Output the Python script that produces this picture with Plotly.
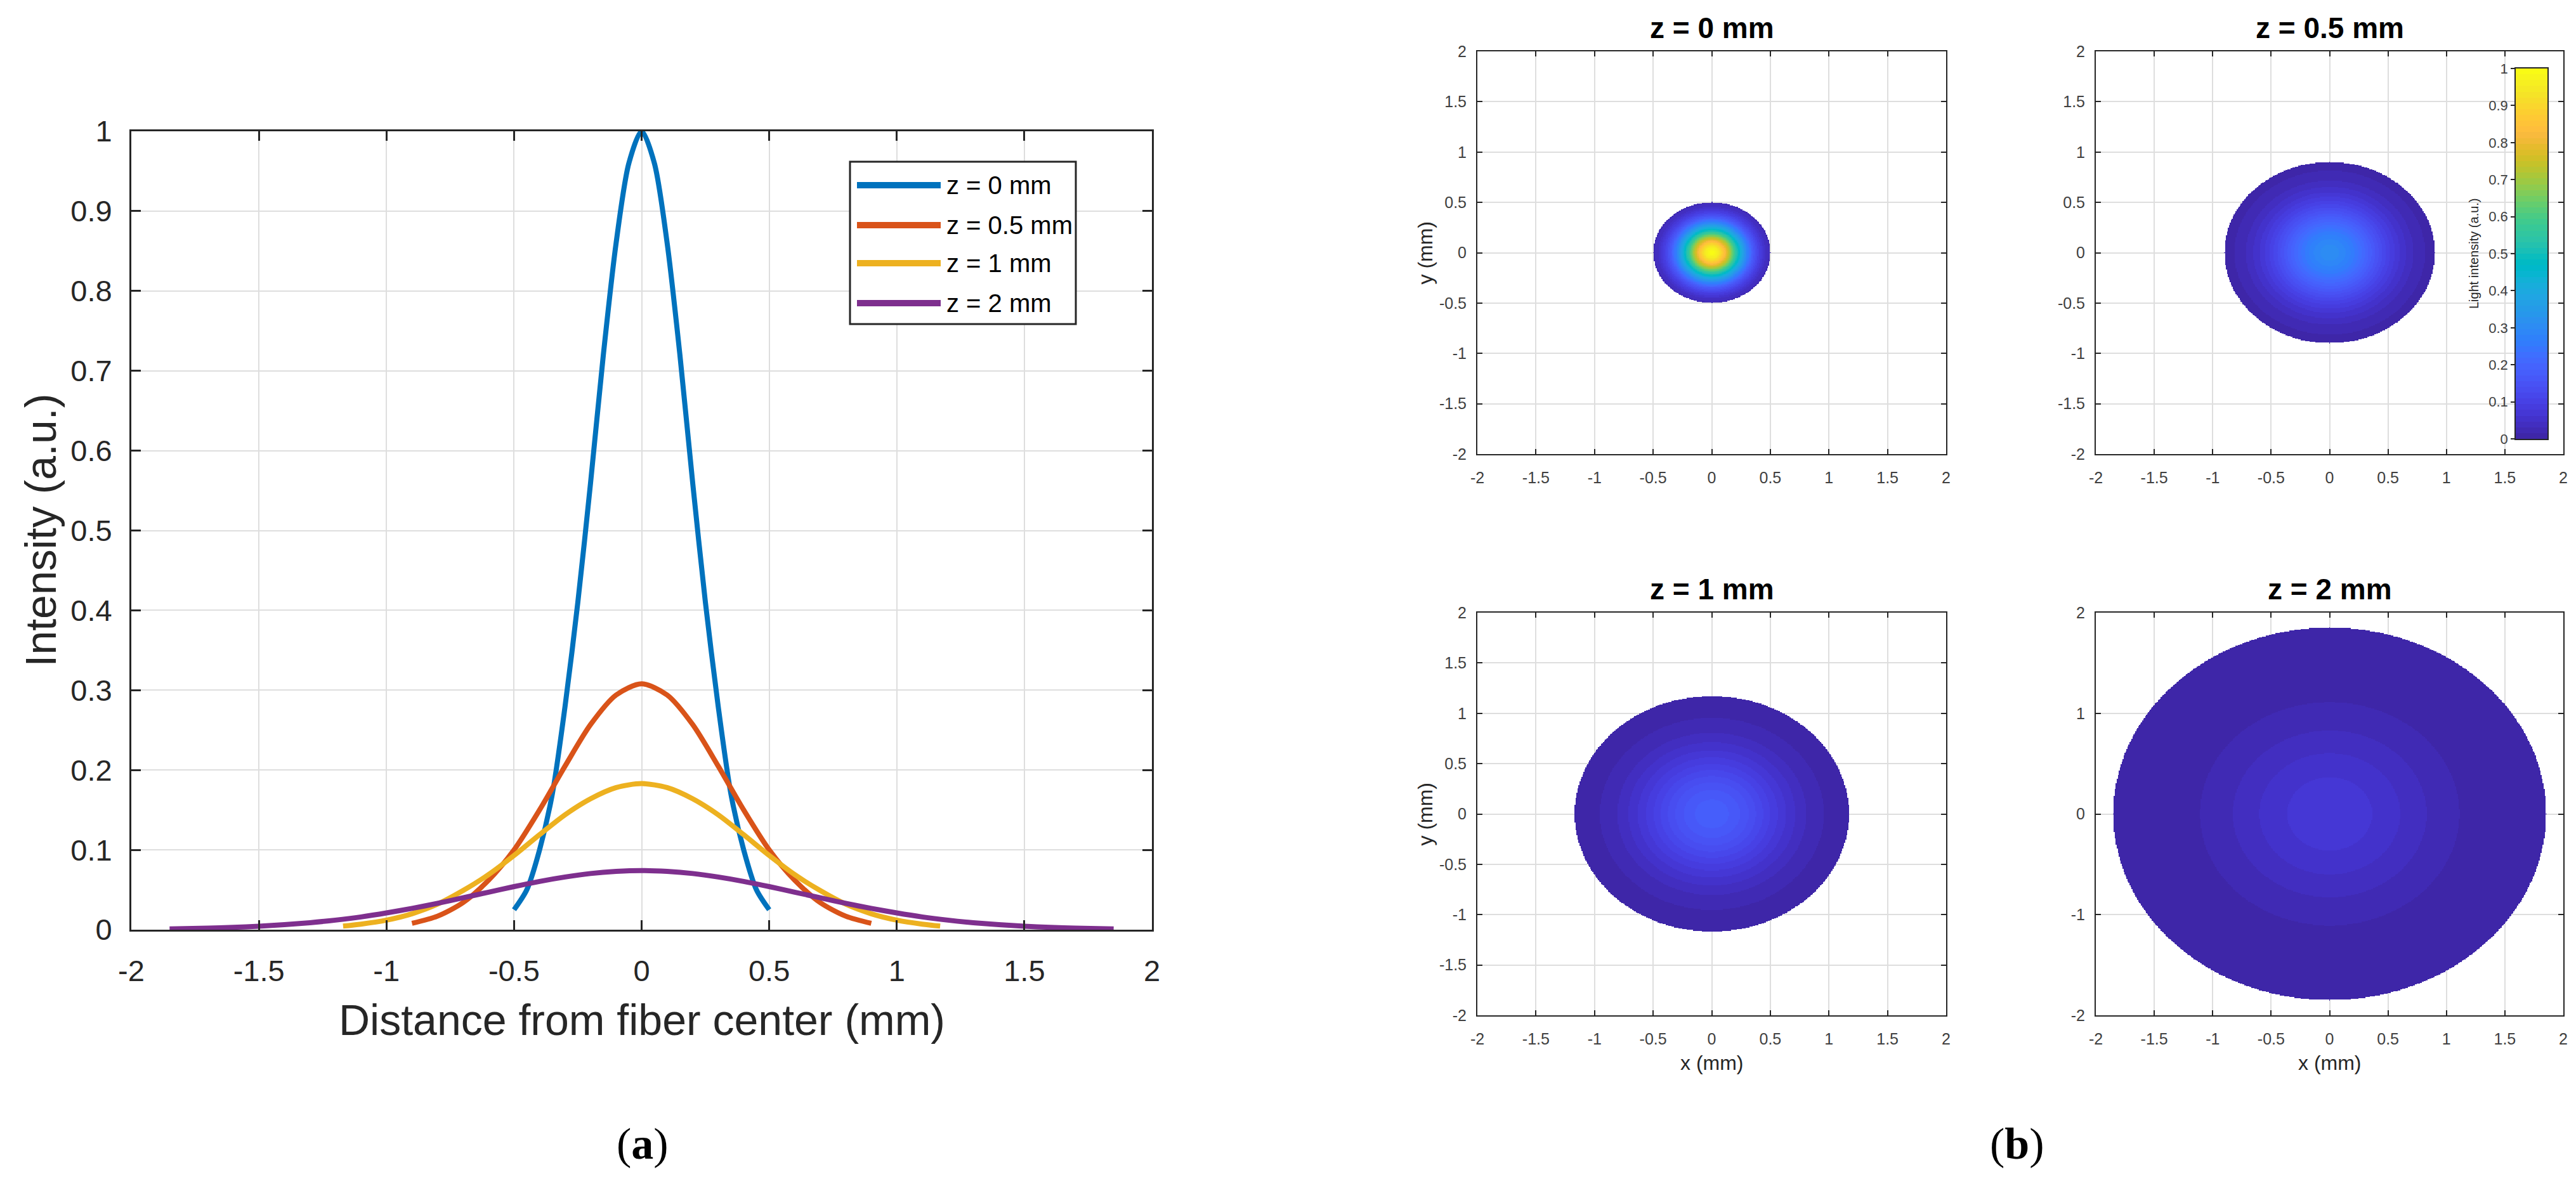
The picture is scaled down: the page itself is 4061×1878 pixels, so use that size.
import numpy as np
import plotly.graph_objects as go

W, H = 4061, 1878

# ---------------- data ----------------
# (a) intensity profiles vs distance from fibre centre (mm)
x_z0 = [-0.5, -0.45, -0.4, -0.35, -0.3, -0.25, -0.2, -0.15, -0.1, -0.05, 0.0,
        0.05, 0.1, 0.15, 0.2, 0.25, 0.3, 0.35, 0.4, 0.45, 0.5]
i_z0 = [0.025, 0.05, 0.10, 0.17, 0.28, 0.41, 0.56, 0.72, 0.86, 0.96, 1.0,
        0.96, 0.86, 0.72, 0.56, 0.41, 0.28, 0.17, 0.10, 0.05, 0.025]

x_z05 = [-0.9, -0.8, -0.7, -0.6, -0.5, -0.4, -0.3, -0.2, -0.1, 0.0,
         0.1, 0.2, 0.3, 0.4, 0.5, 0.6, 0.7, 0.8, 0.9]
i_z05 = [0.008, 0.017, 0.034, 0.062, 0.100, 0.150, 0.205, 0.257, 0.294, 0.308,
         0.294, 0.257, 0.205, 0.150, 0.100, 0.062, 0.034, 0.017, 0.008]

x_z1 = [-1.17, -1.1, -1.0, -0.9, -0.8, -0.7, -0.6, -0.5, -0.4, -0.3, -0.2, -0.1, 0.0,
        0.1, 0.2, 0.3, 0.4, 0.5, 0.6, 0.7, 0.8, 0.9, 1.0, 1.1, 1.17]
i_z1 = [0.0045, 0.007, 0.012, 0.020, 0.032, 0.049, 0.069, 0.093, 0.119, 0.144, 0.164, 0.178, 0.183,
        0.178, 0.164, 0.144, 0.119, 0.093, 0.069, 0.049, 0.032, 0.020, 0.012, 0.007, 0.0045]

x_z2 = [-1.85, -1.7, -1.6, -1.5, -1.4, -1.3, -1.2, -1.1, -1.0, -0.9, -0.8, -0.7, -0.6,
        -0.5, -0.4, -0.3, -0.2, -0.1, 0.0,
        0.1, 0.2, 0.3, 0.4, 0.5, 0.6, 0.7, 0.8, 0.9, 1.0, 1.1, 1.2, 1.3, 1.4, 1.5, 1.6, 1.7, 1.85]
i_z2 = [0.001, 0.0019, 0.003, 0.0044, 0.0063, 0.0088, 0.012, 0.016, 0.021, 0.0267, 0.033, 0.040, 0.047,
        0.054, 0.0605, 0.066, 0.0704, 0.073, 0.074,
        0.073, 0.0704, 0.066, 0.0605, 0.054, 0.047, 0.040, 0.033, 0.0267, 0.021, 0.016, 0.012,
        0.0088, 0.0063, 0.0044, 0.003, 0.0019, 0.001]

series_names = ["z = 0 mm", "z = 0.5 mm", "z = 1 mm", "z = 2 mm"]
series_x = [x_z0, x_z05, x_z1, x_z2]
series_y = [i_z0, i_z05, i_z1, i_z2]
series_colors = ["#0072BD", "#D95319", "#EDB120", "#7E2F8E"]

# tick labels
left_xticks = [-2, -1.5, -1, -0.5, 0, 0.5, 1, 1.5, 2]
left_xtext = ["-2", "-1.5", "-1", "-0.5", "0", "0.5", "1", "1.5", "2"]
left_yticks = [0, 0.1, 0.2, 0.3, 0.4, 0.5, 0.6, 0.7, 0.8, 0.9, 1]
left_ytext = ["0", "0.1", "0.2", "0.3", "0.4", "0.5", "0.6", "0.7", "0.8", "0.9", "1"]
map_ticks_fine = [-2, -1.5, -1, -0.5, 0, 0.5, 1, 1.5, 2]
map_text_fine = ["-2", "-1.5", "-1", "-0.5", "0", "0.5", "1", "1.5", "2"]
map_ticks_coarse = [-2, -1, 0, 1, 2]
map_text_coarse = ["-2", "-1", "0", "1", "2"]
cb_ticks = [0, 0.1, 0.2, 0.3, 0.4, 0.5, 0.6, 0.7, 0.8, 0.9, 1]
cb_text = ["0", "0.1", "0.2", "0.3", "0.4", "0.5", "0.6", "0.7", "0.8", "0.9", "1"]

# MATLAB parula (64 colours)
parula = [
    (0.2422, 0.1504, 0.6603), (0.2504, 0.1650, 0.7076), (0.2578, 0.1818, 0.7511), (0.2647, 0.1978, 0.7952),
    (0.2706, 0.2147, 0.8364), (0.2751, 0.2342, 0.8710), (0.2783, 0.2559, 0.8991), (0.2803, 0.2782, 0.9221),
    (0.2813, 0.3006, 0.9414), (0.2810, 0.3228, 0.9579), (0.2795, 0.3447, 0.9717), (0.2760, 0.3667, 0.9829),
    (0.2699, 0.3892, 0.9906), (0.2602, 0.4123, 0.9952), (0.2440, 0.4358, 0.9988), (0.2206, 0.4603, 0.9973),
    (0.1963, 0.4847, 0.9892), (0.1834, 0.5074, 0.9798), (0.1786, 0.5289, 0.9682), (0.1764, 0.5499, 0.9520),
    (0.1687, 0.5703, 0.9359), (0.1540, 0.5902, 0.9218), (0.1460, 0.6091, 0.9079), (0.1380, 0.6276, 0.8973),
    (0.1248, 0.6459, 0.8883), (0.1113, 0.6635, 0.8763), (0.0952, 0.6798, 0.8598), (0.0689, 0.6948, 0.8394),
    (0.0297, 0.7082, 0.8163), (0.0036, 0.7203, 0.7917), (0.0067, 0.7312, 0.7660), (0.0433, 0.7411, 0.7394),
    (0.0964, 0.7500, 0.7120), (0.1408, 0.7584, 0.6842), (0.1717, 0.7670, 0.6554), (0.1938, 0.7758, 0.6251),
    (0.2161, 0.7843, 0.5923), (0.2470, 0.7918, 0.5567), (0.2906, 0.7973, 0.5188), (0.3406, 0.8008, 0.4789),
    (0.3909, 0.8029, 0.4354), (0.4456, 0.8024, 0.3909), (0.5044, 0.7993, 0.3480), (0.5616, 0.7942, 0.3045),
    (0.6174, 0.7876, 0.2612), (0.6720, 0.7793, 0.2227), (0.7242, 0.7698, 0.1910), (0.7738, 0.7598, 0.1646),
    (0.8203, 0.7498, 0.1535), (0.8634, 0.7406, 0.1596), (0.9035, 0.7330, 0.1774), (0.9393, 0.7288, 0.2100),
    (0.9728, 0.7298, 0.2394), (0.9956, 0.7434, 0.2371), (0.9970, 0.7659, 0.2199), (0.9952, 0.7893, 0.2028),
    (0.9892, 0.8136, 0.1885), (0.9786, 0.8386, 0.1766), (0.9676, 0.8639, 0.1643), (0.9610, 0.8890, 0.1537),
    (0.9597, 0.9135, 0.1423), (0.9628, 0.9373, 0.1265), (0.9691, 0.9606, 0.1064), (0.9769, 0.9839, 0.0805),
]
n_col = len(parula)
colorscale = []
for k, (r, g, b) in enumerate(parula):
    c = f"rgb({int(round(r*255))},{int(round(g*255))},{int(round(b*255))})"
    colorscale.append([k / n_col, c])
    colorscale.append([(k + 1) / n_col, c])

# ---------------- layout geometry (pixels) ----------------
def px_x(p):
    return p / W

def px_y(p):
    return 1 - p / H

L_X0, L_X1, L_Y0, L_Y1 = 199, 1808, 199, 1458
C1 = (2321, 3060)
C2 = (3296, 4033)
R1 = (73, 708)
R2 = (958, 1593)
CB_X = (3958, 4008)
CB_Y = (100, 684)

FONT = "Liberation Sans, Arial, Helvetica, sans-serif"
AXC = "#262626"

fig = go.Figure()

# ---------------- (a) line plot ----------------
for name, xs, ys, col in zip(series_names, series_x, series_y, series_colors):
    fig.add_trace(go.Scatter(x=xs, y=ys, mode="lines", name=name,
                             line=dict(color=col, width=8, shape="spline", smoothing=0.8),
                             xaxis="x", yaxis="y", showlegend=False, hoverinfo="skip"))

# ---------------- (b) intensity maps ----------------
grid = np.linspace(-2, 2, 481)
GX, GY = np.meshgrid(grid, grid)
RR = np.sqrt(GX**2 + GY**2)
map_axes = [("x2", "y2"), ("x3", "y3"), ("x4", "y4"), ("x5", "y5")]
for xs, ys, (xa, ya) in zip(series_x, series_y, map_axes):
    xs_a = np.array(xs)
    ys_a = np.array(ys)
    half = xs_a >= 0
    r_prof = xs_a[half]
    i_prof = ys_a[half]
    Z = np.interp(RR, r_prof, i_prof)
    Z[RR > r_prof.max()] = np.nan
    fig.add_trace(go.Heatmap(x=grid, y=grid, z=Z, zmin=0, zmax=1, colorscale=colorscale,
                             showscale=False, xaxis=xa, yaxis=ya, hoverinfo="skip", zsmooth=False))

# colour bar drawn as its own small axes
cb_levels = (np.arange(n_col) + 0.5) / n_col
fig.add_trace(go.Heatmap(x=[0], y=cb_levels, z=[[v] for v in cb_levels], zmin=0, zmax=1,
                         colorscale=colorscale, showscale=False, xaxis="x6", yaxis="y6",
                         hoverinfo="skip"))


def axis(domain, anchor, rng, tickvals, ticktext, size, lw, tl, gw, standoff, col="#404040"):
    return dict(domain=domain, anchor=anchor, range=rng, tickvals=tickvals, ticktext=ticktext,
                showline=True, linecolor=AXC, linewidth=lw, mirror="ticks",
                ticks="inside", ticklen=tl, tickwidth=lw, tickcolor=AXC,
                showgrid=True, gridcolor="#dedede", gridwidth=gw, zeroline=False,
                tickfont=dict(family=FONT, size=size, color=col), ticklabelstandoff=standoff,
                fixedrange=True, automargin=False)


layout = dict(
    width=W, height=H, margin=dict(l=0, r=0, t=0, b=0, pad=0, autoexpand=False),
    paper_bgcolor="white", plot_bgcolor="white", showlegend=False,
    xaxis=axis([px_x(L_X0), px_x(L_X1)], "y", [-2, 2], left_xticks, left_xtext, 47, 3, 15, 2, 22, "#262626"),
    yaxis=axis([px_y(L_Y1), px_y(L_Y0)], "x", [0, 1], left_yticks, left_ytext, 47, 3, 15, 2, 18, "#262626"),
)
panel_geo = [(C1, R1, True), (C2, R1, True), (C1, R2, True), (C2, R2, False)]
for k, (cx, ry, fine_y) in enumerate(panel_geo, start=2):
    layout[f"xaxis{k}"] = axis([px_x(cx[0]), px_x(cx[1])], f"y{k}", [-2, 2],
                               map_ticks_fine, map_text_fine, 25, 2, 8, 1.5, 14)
    yt, ytx = (map_ticks_fine, map_text_fine) if fine_y else (map_ticks_coarse, map_text_coarse)
    layout[f"yaxis{k}"] = axis([px_y(ry[1]), px_y(ry[0])], f"x{k}", [-2, 2], yt, ytx, 25, 2, 8, 1.5, 10)

layout["xaxis6"] = dict(domain=[px_x(CB_X[0]), px_x(CB_X[1])], anchor="y6", range=[-0.5, 0.5],
                        showline=True, linecolor=AXC, linewidth=1.5, mirror=True, ticks="",
                        showticklabels=False, showgrid=False, zeroline=False, fixedrange=True,
                        automargin=False)
layout["yaxis6"] = dict(domain=[px_y(CB_Y[1]), px_y(CB_Y[0])], anchor="x6", range=[0, 1], side="left",
                        tickvals=cb_ticks, ticktext=cb_text, showline=True, linecolor=AXC, linewidth=1.5,
                        mirror=True, ticks="outside", ticklen=6, tickwidth=1.5, tickcolor=AXC,
                        showgrid=False, zeroline=False, fixedrange=True, automargin=False,
                        tickfont=dict(family=FONT, size=22, color="#404040"))

fig.update_layout(**layout)

# ---------------- text ----------------
ann = []

def text(x, y, s, size, color="#262626", bold=False, angle=0, family=FONT, xanchor="center"):
    ann.append(dict(x=px_x(x), y=px_y(y), xref="paper", yref="paper", text=(f"<b>{s}</b>" if bold else s),
                    showarrow=False, font=dict(family=family, size=size, color=color),
                    textangle=angle, xanchor=xanchor, yanchor="middle"))

# (a)
text((L_X0 + L_X1) / 2, 1600, "Distance from fiber center (mm)", 68)
text(55, (L_Y0 + L_Y1) / 2, "Intensity (a.u.)", 68, angle=-90)

# (b)
for name, (cx, ry, _) in zip(series_names, panel_geo):
    text((cx[0] + cx[1]) / 2, ry[0] - 37, name, 46, color="#000000", bold=True)
text(2238, (R1[0] + R1[1]) / 2, "y (mm)", 32, angle=-90)
text(2238, (R2[0] + R2[1]) / 2, "y (mm)", 32, angle=-90)
text((C1[0] + C1[1]) / 2, 1668, "x (mm)", 32)
text((C2[0] + C2[1]) / 2, 1668, "x (mm)", 32)
text(3892, (CB_Y[0] + CB_Y[1]) / 2, "Light intensity (a.u.)", 20, angle=-90)

# figure part labels
text(1005, 1795, "(<b>a</b>)", 70, color="#000000", family="Liberation Serif, Times New Roman, serif")
text(3172, 1795, "(<b>b</b>)", 70, color="#000000", family="Liberation Serif, Times New Roman, serif")

# legend (box, sample lines and labels) in axes-domain coordinates of (a)
def dom_x(p):
    return (p - L_X0) / (L_X1 - L_X0)

def dom_y(p):
    return (L_Y1 - p) / (L_Y1 - L_Y0)

shapes = [dict(type="rect", xref="x domain", yref="y domain",
               x0=dom_x(1332), x1=dom_x(1688), y0=dom_y(503), y1=dom_y(247),
               line=dict(color=AXC, width=3), fillcolor="white", layer="above")]
row_y = [284, 347, 407, 470]
for name, col, ry in zip(series_names, series_colors, row_y):
    shapes.append(dict(type="line", xref="x domain", yref="y domain",
                       x0=dom_x(1343), x1=dom_x(1475), y0=dom_y(ry), y1=dom_y(ry),
                       line=dict(color=col, width=10), layer="above"))
    ann.append(dict(x=dom_x(1482), y=dom_y(ry), xref="x domain", yref="y domain", text=name,
                    showarrow=False, xanchor="left", yanchor="middle",
                    font=dict(family=FONT, size=40, color="#000000")))

fig.update_layout(annotations=ann, shapes=shapes)
fig.write_html("out.html")
